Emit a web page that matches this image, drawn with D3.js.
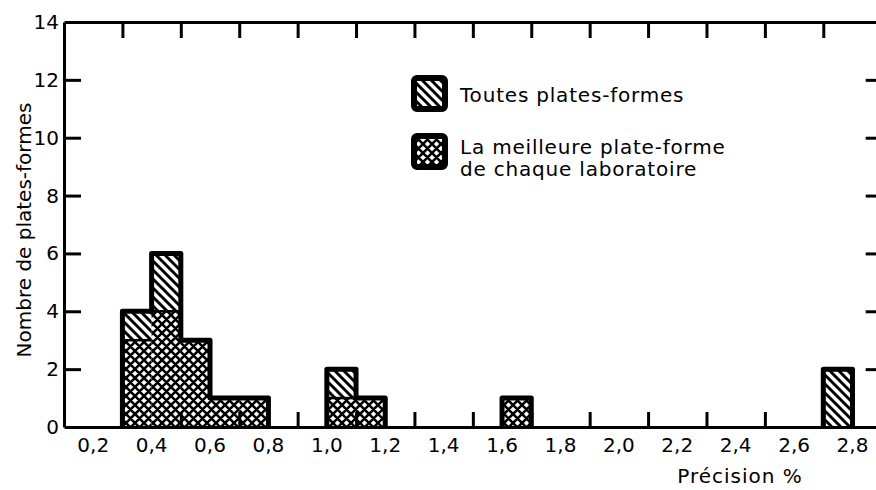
<!DOCTYPE html>
<html>
<head>
<meta charset="utf-8">
<script src="https://cdn.jsdelivr.net/npm/d3@7"></script>
<style>
  body { margin: 0; background: #fff; }
  svg text { font-family: "DejaVu Sans", sans-serif; fill: #000; }
</style>
</head>
<body>
<div id="chart"></div>
<script>
// bins of width 0.1, given by their left edge (Précision %)
var binStart = [0.3, 0.4, 0.5, 0.6, 0.7, 1.0, 1.1, 1.6, 2.7];
var allCounts = [4, 6, 3, 1, 1, 2, 1, 1, 2];   // Toutes plates-formes
var bestCounts = [3, 4, 3, 1, 1, 1, 1, 1, 0];  // La meilleure plate-forme de chaque laboratoire
var binWidth = 0.1;

var xLabelValues = [0.2, 0.4, 0.6, 0.8, 1.0, 1.2, 1.4, 1.6, 1.8, 2.0, 2.2, 2.4, 2.6, 2.8];
var xTickValues = [0.3, 0.5, 0.7, 0.9, 1.1, 1.3, 1.5, 1.7, 1.9, 2.1, 2.3, 2.5, 2.7];
var yLabelValues = [0, 2, 4, 6, 8, 10, 12, 14];
var yTickValues = [2, 4, 6, 8, 10, 12];

var legendLabels = [["Toutes plates-formes"], ["La meilleure plate-forme", "de chaque laboratoire"]];

var width = 876, height = 490;
var margin = {top: 22, left: 64, bottom: 63};

var svg = d3.select('#chart').append('svg')
    .attr('width', width)
    .attr('height', height);

var x = d3.scaleLinear().domain([0.1, 2.9]).range([margin.left, 881.7]);
var y = d3.scaleLinear().domain([0, 14]).range([height - margin.bottom, margin.top]);

// patterns
var defs = svg.append('defs');
var hatch = defs.append('pattern')
    .attr('id', 'hatch')
    .attr('patternUnits', 'userSpaceOnUse')
    .attr('width', 9).attr('height', 9);
hatch.append('rect').attr('width', 9).attr('height', 9).attr('fill', '#fff');
hatch.append('path')
    .attr('d', 'M-2,-2L11,11M-2,7L2,11M7,-2L11,2')
    .attr('stroke', '#000').attr('stroke-width', 2.9);

var cross = defs.append('pattern')
    .attr('id', 'cross')
    .attr('patternUnits', 'userSpaceOnUse')
    .attr('width', 9).attr('height', 9);
cross.append('rect').attr('width', 9).attr('height', 9).attr('fill', '#fff');
cross.append('path')
    .attr('d', 'M-2,-2L11,11M-2,7L2,11M7,-2L11,2M-2,11L11,-2M-2,2L2,-2M7,11L11,7')
    .attr('stroke', '#000').attr('stroke-width', 2.6);

var bins = binStart.map(function (s, i) {
    return {start: s, all: allCounts[i], best: bestCounts[i]};
});

// bar fills
var bars = svg.append('g');
bars.selectAll('rect.all')
    .data(bins.filter(function (d) { return d.all > d.best; }))
    .enter().append('rect')
    .attr('x', function (d) { return x(d.start); })
    .attr('width', function (d) { return x(d.start + binWidth) - x(d.start); })
    .attr('y', function (d) { return y(d.all); })
    .attr('height', function (d) { return y(d.best) - y(d.all); })
    .attr('fill', 'url(#hatch)');

bars.selectAll('rect.best')
    .data(bins.filter(function (d) { return d.best > 0; }))
    .enter().append('rect')
    .attr('x', function (d) { return x(d.start); })
    .attr('width', function (d) { return x(d.start + binWidth) - x(d.start); })
    .attr('y', function (d) { return y(d.best); })
    .attr('height', function (d) { return y(0) - y(d.best); })
    .attr('fill', 'url(#cross)');

// thin line between hatch and crosshatch
bars.selectAll('line.sep')
    .data(bins.filter(function (d) { return d.all > d.best && d.best > 0; }))
    .enter().append('line')
    .attr('x1', function (d) { return x(d.start); })
    .attr('x2', function (d) { return x(d.start + binWidth); })
    .attr('y1', function (d) { return y(d.best); })
    .attr('y2', function (d) { return y(d.best); })
    .attr('stroke', '#000').attr('stroke-width', 2.5);

// silhouette outline, one per run of adjacent bins
var groups = [];
bins.forEach(function (d) {
    var last = groups[groups.length - 1];
    if (last && Math.abs(last[last.length - 1].start + binWidth - d.start) < 1e-9) last.push(d);
    else groups.push([d]);
});
var line = d3.line().x(function (p) { return x(p[0]); }).y(function (p) { return y(p[1]); });
groups.forEach(function (g) {
    var pts = [[g[0].start, 0]];
    g.forEach(function (d) {
        pts.push([d.start, d.all]);
        pts.push([d.start + binWidth, d.all]);
    });
    pts.push([g[g.length - 1].start + binWidth, 0]);
    svg.append('path')
        .attr('d', line(pts))
        .attr('fill', 'none')
        .attr('stroke', '#000')
        .attr('stroke-width', 5)
        .attr('stroke-linejoin', 'round');
});

// frame and ticks
var axisStroke = function (g) {
    g.selectAll('path,line').attr('stroke', '#000').attr('stroke-width', 3);
};
svg.append('g').attr('transform', 'translate(0,' + y(0) + ')')
    .call(d3.axisBottom(x).tickValues(xTickValues).tickSize(-15).tickSizeOuter(0).tickFormat(''))
    .call(axisStroke);
svg.append('g').attr('transform', 'translate(0,' + y(14) + ')')
    .call(d3.axisTop(x).tickValues(xTickValues).tickSize(-16).tickSizeOuter(0).tickFormat(''))
    .call(axisStroke);
svg.append('g').attr('transform', 'translate(' + x(0.1) + ',0)')
    .call(d3.axisLeft(y).tickValues(yTickValues).tickSize(-17).tickSizeOuter(0).tickFormat(''))
    .call(axisStroke);
svg.append('g').attr('transform', 'translate(' + x(2.9) + ',0)')
    .call(d3.axisRight(y).tickValues(yTickValues).tickSize(-16).tickSizeOuter(0).tickFormat(''))
    .call(axisStroke);

// tick labels
var fmt = function (v) { return d3.format('.1f')(v).replace('.', ','); };
svg.append('g').selectAll('text')
    .data(xLabelValues)
    .enter().append('text')
    .attr('x', function (d) { return x(d); })
    .attr('y', 452)
    .attr('text-anchor', 'middle')
    .attr('font-size', 20)
    .text(fmt);

svg.append('g').selectAll('text')
    .data(yLabelValues)
    .enter().append('text')
    .attr('x', 59)
    .attr('y', function (d) { return y(d); })
    .attr('dy', '0.35em')
    .attr('text-anchor', 'end')
    .attr('font-size', 20)
    .text(function (d) { return d; });

// axis titles
svg.append('text')
    .attr('x', 740).attr('y', 483)
    .attr('text-anchor', 'middle')
    .attr('font-size', 20)
    .attr('letter-spacing', 1)
    .text('Précision %');

svg.append('text')
    .attr('transform', 'translate(31,230) rotate(-90)')
    .attr('text-anchor', 'middle')
    .attr('font-size', 20)
    .text('Nombre de plates-formes');

// legend
var legend = svg.append('g');
var legendFills = ['url(#hatch)', 'url(#cross)'];
var legendTop = [78, 136];
legendLabels.forEach(function (lines, i) {
    legend.append('rect')
        .attr('x', 414).attr('y', legendTop[i])
        .attr('width', 31).attr('height', 31)
        .attr('rx', 3)
        .attr('fill', legendFills[i])
        .attr('stroke', '#000').attr('stroke-width', 6);
    lines.forEach(function (t, j) {
        legend.append('text')
            .attr('x', 460)
            .attr('y', legendTop[i] + 24 + j * 22 - (lines.length > 1 ? 6 : 0))
            .attr('font-size', 20)
            .attr('letter-spacing', 0.8)
            .text(t);
    });
});
</script>
</body>
</html>
